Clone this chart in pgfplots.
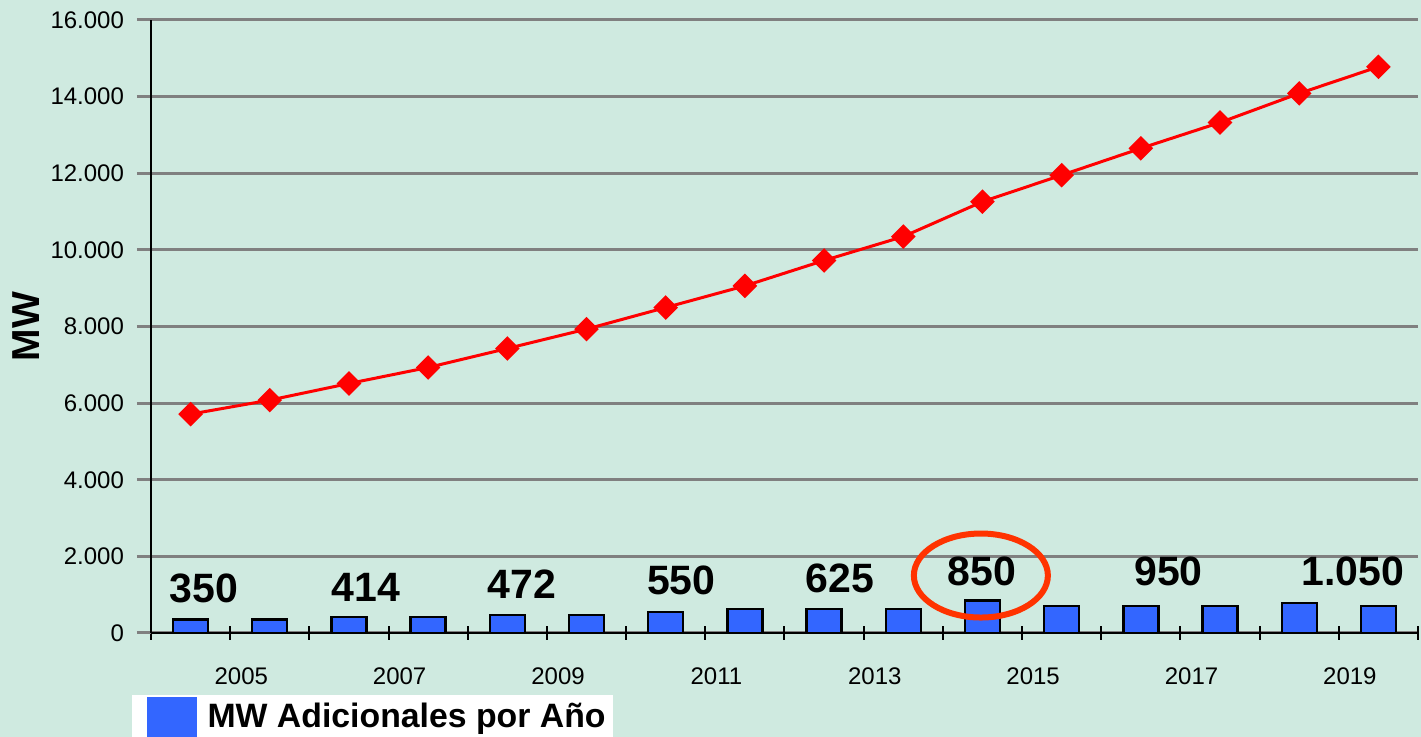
\documentclass[border=0pt]{standalone}
\usepackage{fontspec}
\setmainfont{Liberation Sans}
\usepackage{pgfplots}
\pgfplotsset{compat=1.18}
\definecolor{bg}{RGB}{207,234,224}
\definecolor{barblue}{RGB}{51,102,255}
\definecolor{gridgray}{RGB}{128,128,128}
\definecolor{ell}{RGB}{255,51,0}
\begin{document}
\begin{tikzpicture}
\fill[bg] (-75.5pt,-52pt) rectangle (635pt,316.5pt);
\useasboundingbox (-75.5pt,-52pt) rectangle (635pt,316.5pt);
\begin{axis}[
  at={(0pt,0pt)}, anchor=south west, scale only axis,
  width=633.5pt, height=306.5pt,
  xmin=-0.5, xmax=15.5, ymin=0, ymax=16000,
  axis x line*=bottom, axis y line*=left,
  axis line style={black, line width=1pt},
  ytick={0,2000,...,16000},
  ymajorgrids,
  major grid style={gridgray, line width=1.5pt},
  xtick={-0.5,0.5,...,15.5},
  xticklabels={},
  extra x ticks={0.64,2.64,4.64,6.64,8.64,10.64,12.64,14.64},
  extra x tick labels={2005,2007,2009,2011,2013,2015,2017,2019},
  extra x tick style={major tick length=0pt, tick style={draw=none}},
  xtick align=center, ytick align=outside,
  major tick length=7pt,
  x tick style={black, line width=1pt},
  y tick style={gridgray, line width=1.5pt},
  scaled y ticks=false,
  tick label style={font=\fontsize{12}{14}\selectfont},
  yticklabel style={xshift=-3pt, /pgf/number format/.cd, fixed, 1000 sep={.}, assume math mode=true},
  xticklabel style={yshift=-14pt},
  ylabel={MW},
  ylabel style={font=\fontsize{19.5}{22}\selectfont\bfseries, yshift=-1.5pt},
  legend style={at={(-0.0152,-0.1011)}, anchor=north west, draw=none, fill=white,
    font=\fontsize{16.9}{20}\selectfont\bfseries, inner xsep=1.5pt, inner ysep=1pt,
    nodes={inner xsep=2pt}},
  legend cell align=left,
  legend image code/.code={\path (-6pt,0pt) (27pt,0pt); \fill[barblue] (0pt,-12pt) rectangle (23.5pt,9pt);},
  clip=false,
]
\addplot[ybar, bar width=17.5pt, fill=barblue, draw=black, line width=1.2pt]
  coordinates {(0,350) (1,350) (2,414) (3,414) (4,472) (5,472) (6,550) (7,625)
  (8,625) (9,625) (10,850) (11,700) (12,700) (13,700) (14,790) (15,700)};
\addlegendentry{MW Adicionales por Año}
\addplot[red, line width=1.5pt, mark=square*, mark size=3.6pt, mark options={rotate=45, fill=red}, forget plot]
  coordinates {(0,5713) (1,6078) (2,6512) (3,6930) (4,7426) (5,7932) (6,8495) (7,9060)
  (8,9723) (9,10347) (10,11258) (11,11950) (12,12650) (13,13324) (14,14084) (15,14778)};
\begin{scope}[every node/.style={font=\fontsize{20.5}{24}\selectfont\bfseries, anchor=center, inner sep=0pt}]
\node at (axis cs:0.171,1162) {350};
\node at (axis cs:2.215,1188) {414};
\node at (axis cs:4.184,1266) {472};
\node at (axis cs:6.196,1371) {550};
\node at (axis cs:8.196,1423) {625};
\node at (axis cs:9.99,1606) {850};
\node at (axis cs:12.35,1606) {950};
\node at (axis cs:14.68,1606) {1.050};
\end{scope}
\draw[ell, line width=3pt] (axis cs:9.98,1500) ellipse [x radius=33.5pt, y radius=21pt];
\end{axis}
\end{tikzpicture}
\end{document}
